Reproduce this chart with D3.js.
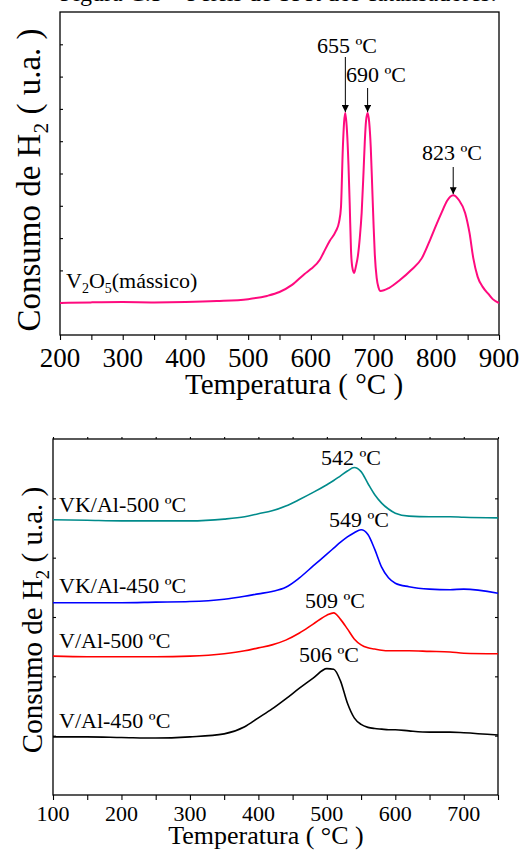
<!DOCTYPE html>
<html>
<head>
<meta charset="utf-8">
<script src="https://cdn.jsdelivr.net/npm/d3@7"></script>
<style>
  body { margin: 0; background: #fff; }
  svg text { font-family: "Liberation Serif", "Times New Roman", serif; fill: #000; }
</style>
</head>
<body>
<script>
// top panel: V2O5 (mássico)
const topTemps = [200, 250, 300, 350, 400, 450, 500, 530, 550, 570, 590, 600, 614, 620, 630, 640, 645, 648, 651, 653, 655, 657.5, 660, 662, 664, 666, 669, 672, 675, 678, 681, 684, 686, 688, 690.5, 693, 695.5, 698, 700, 702, 705, 708, 711, 725, 742, 760, 777, 790, 800, 809, 817, 827, 836, 846, 853, 859, 866, 874, 883, 890, 900];
const v2o5 = [0.99, 1.01, 1.02, 1.01, 1.02, 1.05, 1.11, 1.21, 1.33, 1.55, 1.89, 2.04, 2.32, 2.54, 2.91, 3.22, 3.50, 3.95, 5.79, 6.59, 6.87, 6.35, 5.26, 4.02, 2.63, 2.11, 1.92, 2.14, 2.45, 3.00, 3.78, 5.05, 5.98, 6.63, 6.87, 6.59, 5.82, 4.49, 3.41, 2.48, 1.76, 1.46, 1.36, 1.46, 1.70, 2.01, 2.38, 2.94, 3.41, 3.81, 4.15, 4.33, 4.18, 3.78, 3.16, 2.38, 1.80, 1.49, 1.27, 1.11, 0.99];
const topTicks = [200, 300, 400, 500, 600, 700, 800, 900];
const topPeaks = [
    { t: 655, label: '655 ºC', lx: 347, ly: 53, y1: 57 },
    { t: 690.5, label: '690 ºC', lx: 376, ly: 82, y1: 88 },
    { t: 827, label: '823 ºC', lx: 452, ly: 160, y1: 167 }
];

// bottom panel
const botTemps = [100, 150, 200, 250, 300, 350, 380, 400, 420, 440, 460, 480, 500, 510, 520, 530, 540, 550, 560, 570, 580, 590, 600, 620, 650, 680, 700, 750];
const vkAl500 = [4.64, 4.63, 4.62, 4.62, 4.62, 4.65, 4.69, 4.74, 4.79, 4.87, 4.98, 5.10, 5.23, 5.30, 5.38, 5.46, 5.52, 5.45, 5.25, 5.06, 4.92, 4.82, 4.75, 4.70, 4.69, 4.69, 4.68, 4.67];
const vkAl450 = [3.24, 3.24, 3.24, 3.25, 3.26, 3.30, 3.35, 3.39, 3.43, 3.50, 3.66, 3.86, 4.06, 4.16, 4.26, 4.35, 4.42, 4.47, 4.39, 4.14, 3.84, 3.66, 3.57, 3.51, 3.47, 3.46, 3.47, 3.40];
const vAl500 = [2.34, 2.33, 2.33, 2.33, 2.34, 2.38, 2.43, 2.48, 2.53, 2.61, 2.73, 2.88, 3.03, 3.07, 2.96, 2.80, 2.63, 2.53, 2.48, 2.46, 2.44, 2.43, 2.43, 2.43, 2.42, 2.41, 2.39, 2.38];
const vAl450 = [0.98, 0.98, 0.97, 0.96, 0.98, 1.03, 1.15, 1.30, 1.45, 1.62, 1.80, 1.97, 2.13, 2.12, 1.92, 1.55, 1.30, 1.19, 1.14, 1.12, 1.11, 1.10, 1.10, 1.08, 1.06, 1.06, 1.05, 1.01];
const botTicks = [100, 200, 300, 400, 500, 600, 700];
const botSeries = [
    { name: 'VK/Al-500 ºC', values: vkAl500, color: '#008b8b', ly: 512, peak: '542 ºC', px: 351, py: 465 },
    { name: 'VK/Al-450 ºC', values: vkAl450, color: '#0000ff', ly: 593, peak: '549 ºC', px: 359, py: 527 },
    { name: 'V/Al-500 ºC', values: vAl500, color: '#ff0000', ly: 648, peak: '509 ºC', px: 335, py: 608 },
    { name: 'V/Al-450 ºC', values: vAl450, color: '#000000', ly: 728, peak: '506 ºC', px: 329, py: 662 }
];

const W = 521, H = 850;

const svg = d3.select('body')
    .append('svg')
    .attr('width', W)
    .attr('height', H);

// caption cut off at the top of the picture
svg.append('text')
    .attr('x', 60)
    .attr('y', 1)
    .attr('font-size', '24px')
    .text('Figura C.5 – Perfis de TPR dos catalisadores:');

function frame(x, y, opts) {
    const g = svg.append('g');
    g.append('rect')
        .attr('x', opts.x0).attr('y', opts.y0)
        .attr('width', opts.x1 - opts.x0).attr('height', opts.y1 - opts.y0)
        .attr('fill', 'none').attr('stroke', '#000').attr('stroke-width', 1.3);

    // bottom ticks, outward
    const bot = d3.axisBottom(x).tickValues(d3.range(x.domain()[0], x.domain()[1] + 1, 50))
        .tickSize(5).tickFormat('');
    g.append('g').attr('transform', 'translate(0,' + opts.y1 + ')').call(bot)
        .call(a => a.select('.domain').remove());

    // tick labels
    g.selectAll('.lab').data(opts.ticks).enter().append('text')
        .attr('x', d => x(d)).attr('y', opts.labY)
        .attr('text-anchor', 'middle')
        .attr('font-size', opts.labSize + 'px')
        .text(d => d);

    // left ticks, inward
    const left = d3.axisRight(y).tickValues(opts.yTicks).tickSize(3).tickFormat('');
    g.append('g').attr('transform', 'translate(' + opts.x0 + ',0)').call(left)
        .call(a => a.select('.domain').remove());

    if (opts.rightTicks) {
        const right = d3.axisLeft(y).tickValues(opts.yTicks).tickSize(3).tickFormat('');
        g.append('g').attr('transform', 'translate(' + opts.x1 + ',0)').call(right)
            .call(a => a.select('.domain').remove());
    }
    if (opts.topTicks) {
        const top = d3.axisTop(x).tickValues(d3.range(x.domain()[0], x.domain()[1] + 1, 50))
            .tickSize(2).tickFormat('');
        g.append('g').attr('transform', 'translate(0,' + opts.y0 + ')').call(top)
            .call(a => a.select('.domain').remove());
    }
    g.selectAll('.tick line').attr('stroke', '#000').attr('stroke-width', 1.1);

    // axis titles
    g.append('text')
        .attr('x', opts.xTitleX).attr('y', opts.xTitleY)
        .attr('text-anchor', 'middle')
        .attr('font-size', opts.titleSize + 'px')
        .text('Temperatura ( °C )');

    const yt = g.append('text')
        .attr('transform', 'translate(' + opts.yTitleX + ',' + opts.yTitleY + ') rotate(-90)')
        .attr('text-anchor', 'middle')
        .attr('font-size', opts.yTitleSize + 'px');
    yt.append('tspan').text('Consumo de H');
    yt.append('tspan').attr('dy', opts.yTitleSize * 0.25).attr('font-size', (opts.yTitleSize * 0.65) + 'px').text('2');
    yt.append('tspan').attr('dy', -opts.yTitleSize * 0.25).text(' ( u.a. )');
}


// TOP PANEL

const xTop = d3.scaleLinear().domain([200, 900]).range([60, 499]);
const yTop = d3.scaleLinear().domain([0, 10]).range([335, 12]);

frame(xTop, yTop, {
    x0: 60, x1: 499, y0: 12, y1: 335,
    ticks: topTicks, labY: 367, labSize: 27,
    yTicks: d3.range(1, 10),
    xTitleX: 294, xTitleY: 394, titleSize: 29,
    yTitleX: 40, yTitleY: 180, yTitleSize: 33
});

const lineTop = d3.line()
    .x((d, i) => xTop(topTemps[i]))
    .y(d => yTop(d))
    .curve(d3.curveMonotoneX);

svg.append('path')
    .datum(v2o5)
    .attr('d', lineTop)
    .attr('fill', 'none')
    .attr('stroke', '#ff0a7e')
    .attr('stroke-width', 2);

const v2o5Label = svg.append('text')
    .attr('x', 66).attr('y', 288)
    .attr('font-size', '22px');
v2o5Label.append('tspan').text('V');
v2o5Label.append('tspan').attr('dy', 5).attr('font-size', '14px').text('2');
v2o5Label.append('tspan').attr('dy', -5).text('O');
v2o5Label.append('tspan').attr('dy', 5).attr('font-size', '14px').text('5');
v2o5Label.append('tspan').attr('dy', -5).text('(mássico)');

// peak arrows
svg.append('defs').append('marker')
    .attr('id', 'arr')
    .attr('viewBox', '0 0 10 10')
    .attr('refX', 10).attr('refY', 5)
    .attr('markerWidth', 7).attr('markerHeight', 7)
    .attr('markerUnits', 'userSpaceOnUse')
    .attr('orient', 'auto')
    .append('path').attr('d', 'M0,0 L10,5 L0,10 z').attr('fill', '#000');

topPeaks.forEach(function(p) {
    const i = topTemps.indexOf(p.t);
    svg.append('line')
        .attr('x1', xTop(p.t)).attr('x2', xTop(p.t))
        .attr('y1', p.y1).attr('y2', yTop(v2o5[i]) - 1)
        .attr('stroke', '#000').attr('stroke-width', 1)
        .attr('marker-end', 'url(#arr)');
    svg.append('text')
        .attr('x', p.lx).attr('y', p.ly)
        .attr('text-anchor', 'middle')
        .attr('font-size', '22px')
        .text(p.label);
});


// BOTTOM PANEL

const xBot = d3.scaleLinear().domain([100, 750]).range([53, 498]);
const yBot = d3.scaleLinear().domain([0, 6]).range([795, 439]);

frame(xBot, yBot, {
    x0: 53, x1: 498, y0: 439, y1: 795,
    ticks: botTicks, labY: 821, labSize: 22,
    yTicks: d3.range(1, 6), rightTicks: true, topTicks: true,
    xTitleX: 266, xTitleY: 844, titleSize: 26,
    yTitleX: 42, yTitleY: 620, yTitleSize: 29
});

const lineBot = d3.line()
    .x((d, i) => xBot(botTemps[i]))
    .y(d => yBot(d))
    .curve(d3.curveMonotoneX);

botSeries.forEach(function(s) {
    svg.append('path')
        .datum(s.values)
        .attr('d', lineBot)
        .attr('fill', 'none')
        .attr('stroke', s.color)
        .attr('stroke-width', 1.6);
    svg.append('text')
        .attr('x', 59).attr('y', s.ly)
        .attr('font-size', '22px')
        .text(s.name);
    svg.append('text')
        .attr('x', s.px).attr('y', s.py)
        .attr('text-anchor', 'middle')
        .attr('font-size', '22px')
        .text(s.peak);
});
</script>
</body>
</html>
